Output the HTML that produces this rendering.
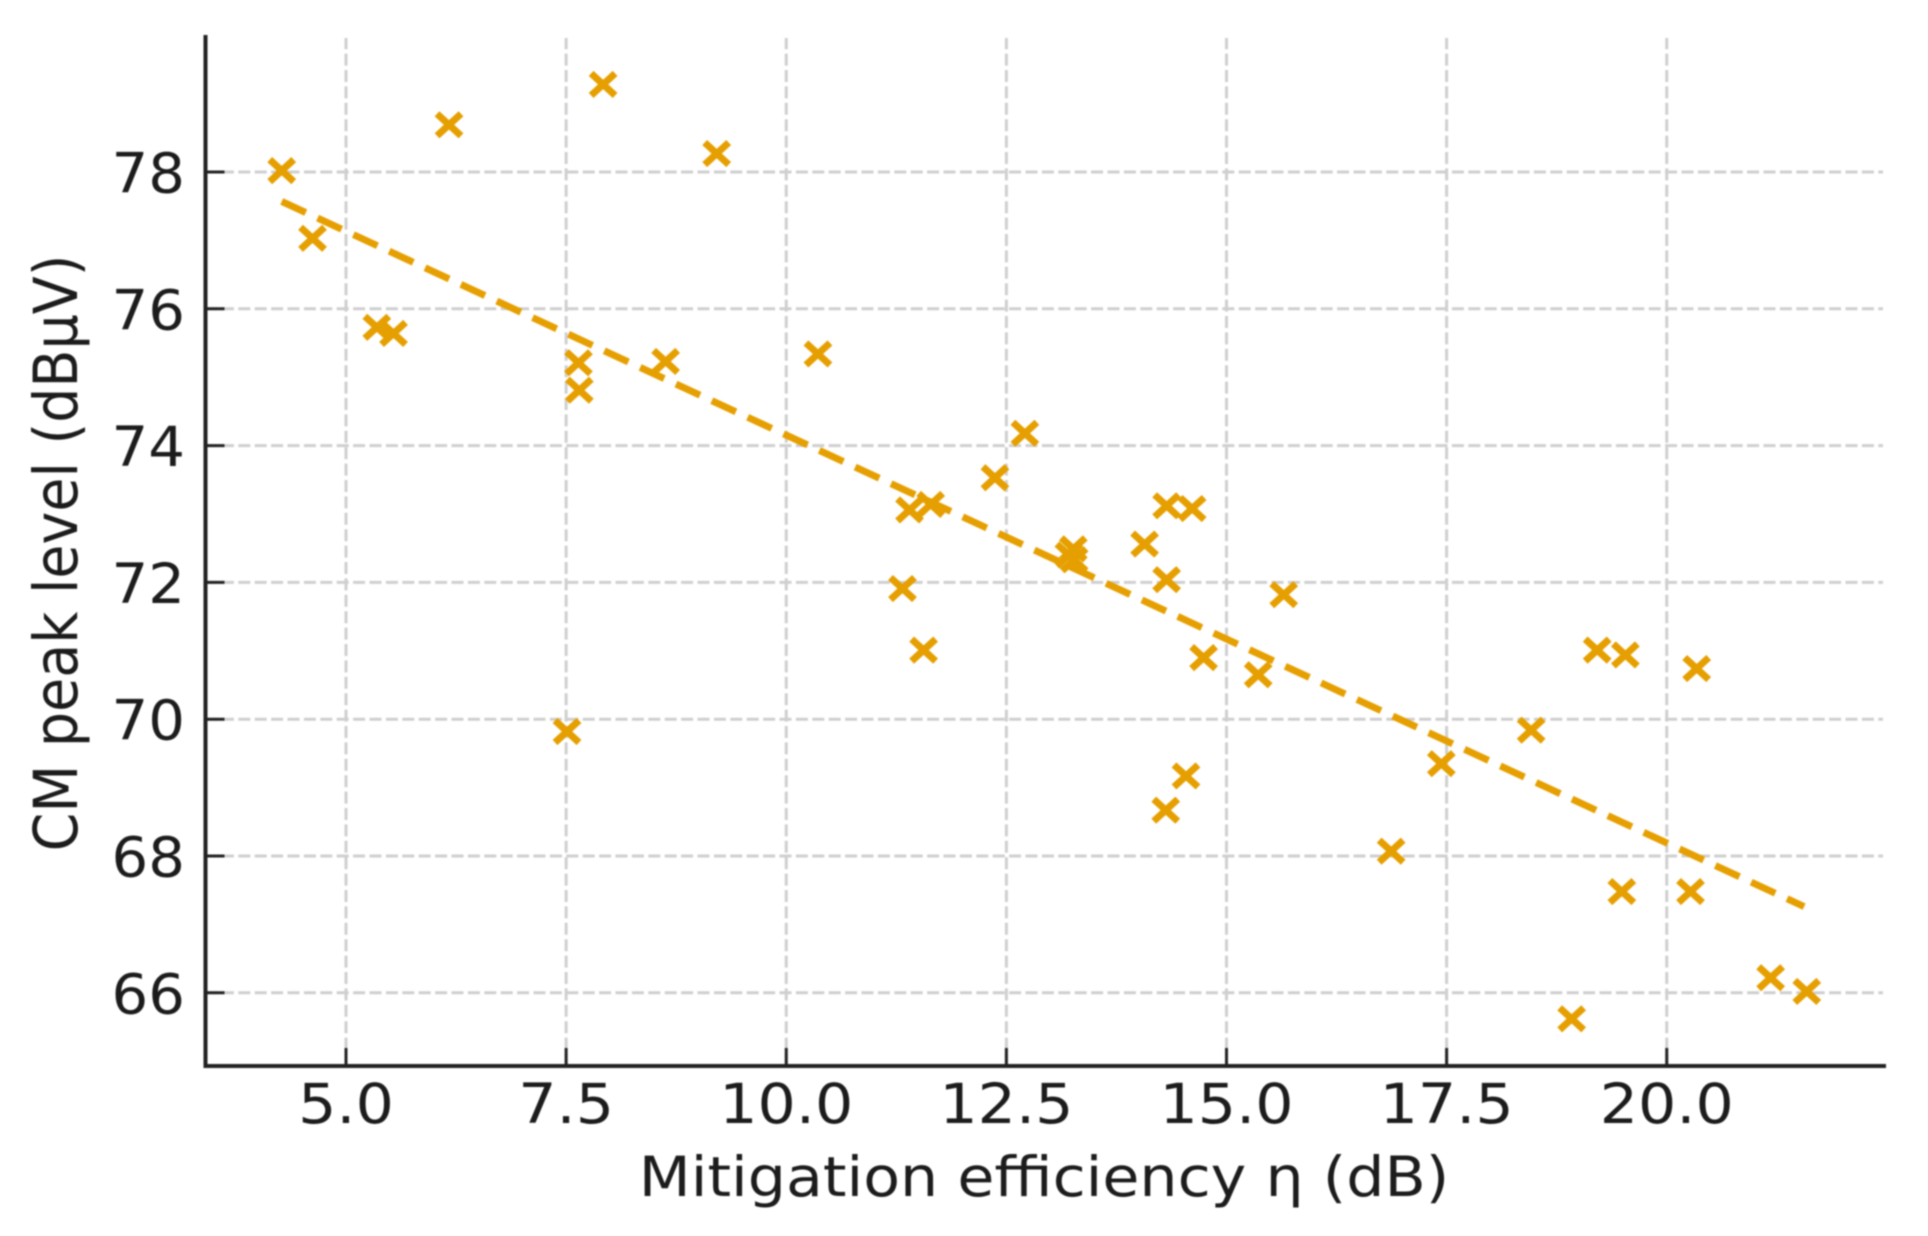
<!DOCTYPE html>
<html lang="en">
<head>
<meta charset="utf-8">
<title>CM peak level vs mitigation efficiency</title>
<style>
  html, body { margin: 0; padding: 0; background: #ffffff; }
  body { width: 1928px; height: 1236px; overflow: hidden; }
  svg { display: block; filter: blur(0.7px); }
  text { font-family: "DejaVu Sans", "Liberation Sans", sans-serif; fill: #1c1c1c; }
</style>
</head>
<body>
<svg id="chart" xmlns="http://www.w3.org/2000/svg" width="1928" height="1236" viewBox="0 0 1928 1236">
  <rect x="0" y="0" width="1928" height="1236" fill="#ffffff"></rect>
  <g id="grid"></g>
  <g id="trend"></g>
  <g id="points"></g>
  <g id="axes"></g>
  <text font-size="55.5" text-anchor="middle" transform="translate(1044 1196) scale(1.085 1)">Mitigation efficiency η (dB)</text>
  <text font-size="55.5" text-anchor="middle" transform="translate(77 553) scale(1.085 1) rotate(-90)">CM peak level (dBµV)</text>
</svg>
<script>
const xTicks = [5.0, 7.5, 10.0, 12.5, 15.0, 17.5, 20.0];
const xTickLabels = ['5.0', '7.5', '10.0', '12.5', '15.0', '17.5', '20.0'];
const yTicks = [66, 68, 70, 72, 74, 76, 78];
const yTickLabels = ['66', '68', '70', '72', '74', '76', '78'];
const efficiency = [4.27, 4.62, 5.35, 5.54, 6.17, 7.64, 7.65, 7.51, 7.92, 8.63, 9.21, 10.36, 11.32, 11.40, 11.64, 11.56, 12.37, 12.71, 13.21, 13.26, 13.27, 14.07, 14.32, 14.32, 14.61, 14.31, 14.54, 14.74, 15.36, 15.65, 16.87, 17.44, 18.46, 18.92, 19.21, 19.53, 19.49, 20.34, 20.27, 21.18, 21.59];
const peakLevel = [78.02, 77.03, 75.73, 75.64, 78.69, 75.21, 74.81, 69.82, 79.28, 75.23, 78.27, 75.34, 71.91, 73.06, 73.14, 71.01, 73.53, 74.18, 72.40, 72.49, 72.33, 72.56, 72.04, 73.12, 73.08, 68.67, 69.17, 70.90, 70.65, 71.82, 68.07, 69.35, 69.84, 65.62, 71.01, 70.94, 67.48, 70.74, 67.48, 66.22, 66.02];
const trendX = [4.27, 21.56];
const trendY = [77.57, 67.26];

const NS = 'http://www.w3.org/2000/svg';
const plotLeft = 205.5, plotRight = 1886, plotTop = 35, plotBottom = 1066;
function xScale(v) { return 346 + (v - 5) * 88.05; }
function yScale(v) { return 172 + (78 - v) * 68.4; }
function make(tag, attrs, parent) {
  const el = document.createElementNS(NS, tag);
  for (const k in attrs) el.setAttribute(k, attrs[k]);
  parent.appendChild(el);
  return el;
}
const gridLayer = document.getElementById('grid');
const trendLayer = document.getElementById('trend');
const pointLayer = document.getElementById('points');
const axisLayer = document.getElementById('axes');
const gridStyle = { stroke: '#cfcfcf', 'stroke-width': 3, 'stroke-dasharray': '12 4.4', fill: 'none' };

xTicks.forEach(function (t, i) {
  const x = xScale(t);
  const g = make('line', Object.assign({ x1: x, x2: x, y1: plotBottom, y2: plotTop + 3 }, gridStyle), gridLayer);
  
  
  const tick = make('line', { x1: x, x2: x, y1: plotBottom, y2: plotBottom - 18, stroke: '#222222', 'stroke-width': 3 }, axisLayer);
  
  
  const label = make('text', { 'font-size': 55.5, 'text-anchor': 'middle', transform: 'translate(' + x + ' 1123) scale(1.085 1)' }, axisLayer);
  label.textContent = xTickLabels[i];
  
  
});

yTicks.forEach(function (t, i) {
  const y = yScale(t);
  const g = make('line', Object.assign({ x1: plotLeft, x2: plotRight - 3, y1: y, y2: y }, gridStyle), gridLayer);
  
  
  const tick = make('line', { x1: plotLeft, x2: plotLeft + 19, y1: y, y2: y, stroke: '#222222', 'stroke-width': 3 }, axisLayer);
  
  
  const label = make('text', { 'font-size': 55.5, 'text-anchor': 'end', transform: 'translate(185 ' + (y + 20.5) + ') scale(1.04 1)' }, axisLayer);
  label.textContent = yTickLabels[i];
  
  
});

const ySpine = make('line', { x1: plotLeft, x2: plotLeft, y1: plotTop, y2: plotBottom + 2, stroke: '#222222', 'stroke-width': 4 }, axisLayer);


const xSpine = make('line', { x1: plotLeft - 2, x2: plotRight, y1: plotBottom, y2: plotBottom, stroke: '#222222', 'stroke-width': 4 }, axisLayer);



const trendLine = make('line', {
  x1: xScale(trendX[0]), y1: yScale(trendY[0]),
  x2: xScale(trendX[1]), y2: yScale(trendY[1]),
  stroke: '#E69F00', 'stroke-width': 7, 'stroke-dasharray': '26.5 13'
}, trendLayer);



efficiency.forEach(function (v, i) {
  const cx = xScale(v), cy = yScale(peakLevel[i]);
  const dx = 12, dy = 11;
  const d = 'M' + (cx - dx) + ' ' + (cy - dy) + 'L' + (cx + dx) + ' ' + (cy + dy) +
            'M' + (cx - dx) + ' ' + (cy + dy) + 'L' + (cx + dx) + ' ' + (cy - dy);
  const marker = make('path', { d: d, stroke: '#E69F00', 'stroke-width': 7, fill: 'none' }, pointLayer);
  
  
});
</script>
</body>
</html>
